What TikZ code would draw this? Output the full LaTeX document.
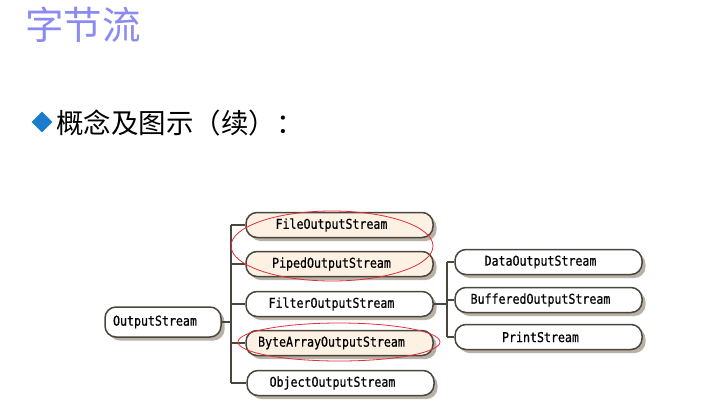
\documentclass[tikz,border=0pt]{standalone}
\usepackage{fontspec}
\newfontfamily\boxfont[FakeStretch=0.86, FakeBold=0.6]{DejaVu Sans Mono}
\newfontfamily\cjk{Noto Sans CJK SC}
\usepackage{tikz}
\usetikzlibrary{shadows, shapes.geometric}

\definecolor{titleblue}{HTML}{8A8AF2}
\definecolor{bulletblue}{HTML}{1A7CCC}
\definecolor{boxline}{HTML}{4A463E}
\definecolor{cream}{HTML}{FCF1E2}
\definecolor{shade}{HTML}{B9B1A6}
\definecolor{markred}{HTML}{E0303C}

\tikzset{
  classbox/.style={draw=boxline, line width=1.5pt, fill=white, rectangle, rounded corners=11pt,
    minimum width=187pt, minimum height=25pt, inner sep=0pt,
    font=\boxfont\fontsize{13.5}{14}\selectfont,
    execute at begin node={\hspace*{-16pt}},
    drop shadow={shadow xshift=3.5pt, shadow yshift=-3.5pt, fill=shade, opacity=1}},
  hotbox/.style={classbox, fill=cream},
  wire/.style={draw=boxline, line width=1.5pt},
  redmark/.style={draw=markred, line width=0.8pt}
}

\begin{document}
\begin{tikzpicture}[x=1pt, y=-1pt]
	\useasboundingbox (0,0) rectangle (708,407);

	\node (title) at (25,25) [anchor=west, text=titleblue, inner sep=0pt] {\cjk\fontsize{38.5}{40}\selectfont 字节流};
	\node (dia) at (42,122) [fill=bulletblue, diamond, minimum width=21pt, minimum height=21pt, inner sep=0pt] {};
	\node (head) at (56,123) [anchor=west, inner sep=0pt] {\cjk\fontsize{27.5}{29}\selectfont 概念及图示（续）：};

	\node (os) at (163,322) [classbox, minimum width=116pt, minimum height=30pt] {OutputStream};

	\node (fos) at (339.5,225) [hotbox] {FileOutputStream};
	\node (pos) at (339.5,264) [hotbox] {PipedOutputStream};
	\node (flt) at (339.5,304) [classbox] {FilterOutputStream};
	\node (baos) at (339.5,343) [hotbox] {ByteArrayOutputStream};
	\node (oos) at (340.5,383) [classbox] {ObjectOutputStream};

	\node (dos) at (548.5,262) [classbox] {DataOutputStream};
	\node (bos) at (548.5,300) [classbox] {BufferedOutputStream};
	\node (ps) at (548.5,337) [classbox] {PrintStream};

	\coordinate (trunk) at (231,0);
	\coordinate (branch) at (447,0);

	\draw[wire] (os.east) -- (os.east -| trunk);
	\draw[wire] (fos.west -| trunk) -- (oos.west -| trunk);
	\foreach \c in {fos, pos, flt, baos, oos}
		\draw[wire] (\c.west -| trunk) -- (\c.west);

	\draw[wire] (flt.east) -- (flt.east -| branch);
	\draw[wire] (dos.west -| branch) -- (ps.west -| branch);
	\foreach \c in {dos, bos, ps}
		\draw[wire] (\c.west -| branch) -- (\c.west);

	% red marks
	\draw[redmark] (332,246) ellipse [x radius=101, y radius=35];
	\draw[redmark] (339,342) ellipse [x radius=101, y radius=19];
\end{tikzpicture}
\end{document}
